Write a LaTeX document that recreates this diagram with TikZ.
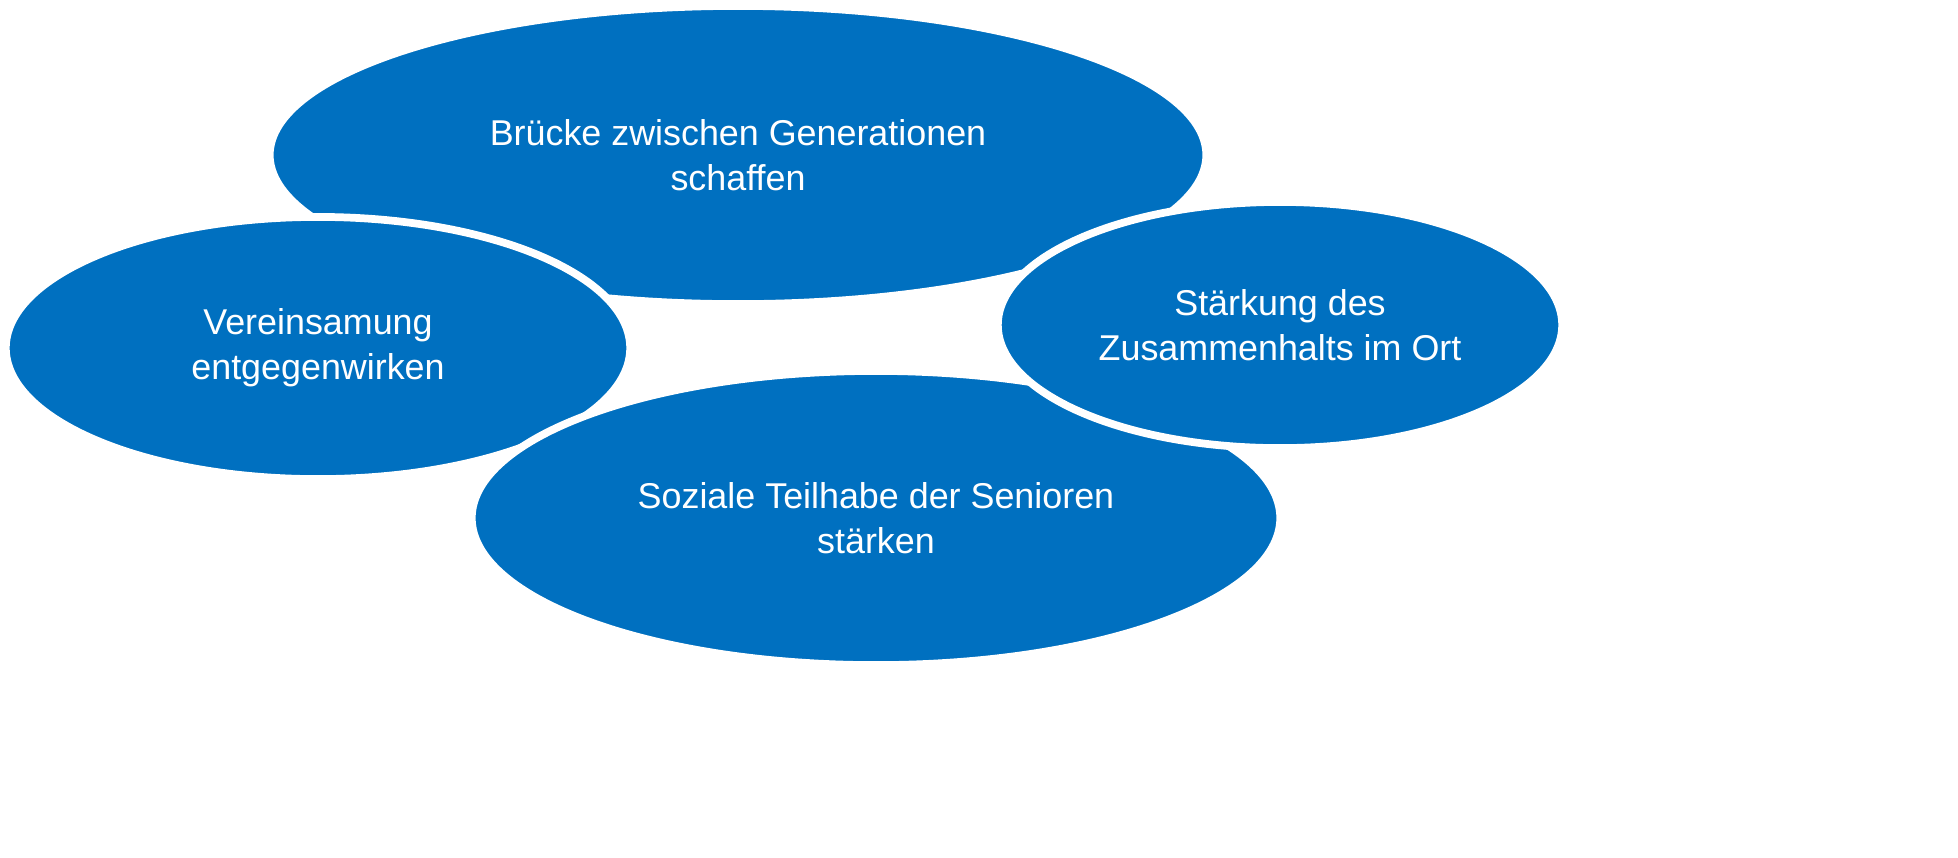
\documentclass[tikz,border=0pt]{standalone}
\usepackage{fontspec}
\setmainfont{Liberation Sans}
\usetikzlibrary{shapes.geometric}
\definecolor{bubbleblue}{RGB}{0,112,192}
\begin{document}
\begin{tikzpicture}[x=0.01cm,y=-0.01cm,
        bubble/.style={ellipse,fill=bubbleblue,draw=white,line width=2.2pt,inner sep=0pt,
            text=white,align=center,font=\fontsize{10.2}{12.8}\selectfont}]
        \useasboundingbox (0,0) rectangle (1958,857);
        % bubbles, back to front
        \node[bubble,minimum width=9.36cm,minimum height=2.98cm] (bridge) at (738,155) {Brücke zwischen Generationen\\schaffen};
        \node[bubble,minimum width=6.24cm,minimum height=2.62cm] (lonely) at (318,348) {Vereinsamung\\entgegenwirken};
        \node[bubble,minimum width=8.08cm,minimum height=2.94cm] (social) at (876,518) {Soziale Teilhabe der Senioren\\stärken};
        \node[bubble,minimum width=5.64cm,minimum height=2.46cm] (unity) at (1280,325) {Stärkung des\\Zusammenhalts im Ort};
    \end{tikzpicture}
\end{document}
